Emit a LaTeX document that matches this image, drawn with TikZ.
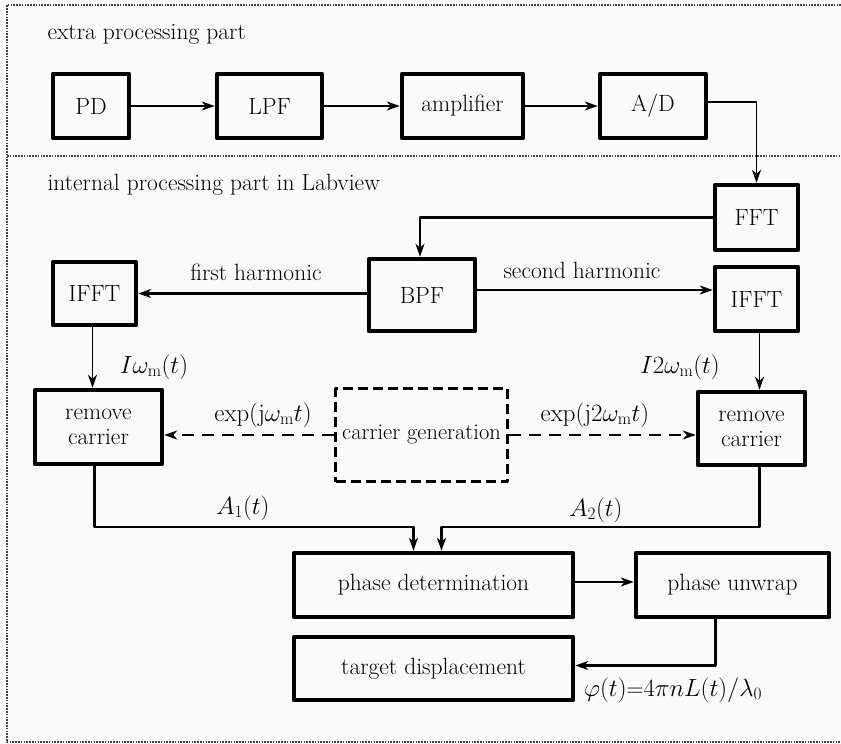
\documentclass[tikz,border=0pt]{standalone}
\usetikzlibrary{arrows.meta}
\begin{document}
\begin{tikzpicture}[x=1pt, y=-1pt, line join=round,
    >={Stealth[length=13pt, width=9pt, inset=4pt]},
    font=\fontsize{23.5}{25}\selectfont,
    block/.style={draw, line width=4.5pt, inner sep=2pt, align=center},
    gen/.style={draw, line width=3pt, dash pattern=on 10pt off 5pt, align=center},
    link/.style={->, line width=2.2pt},
    thin link/.style={->, line width=1.5pt},
    part/.style={line width=1.6pt, black!75, dash pattern=on 1.6pt off 1.2pt}]
	\def \xl{7};
	\def \xr{841};
	\useasboundingbox[fill=black!2] (0,0) rectangle (841,744);
	% frames of the two parts
	\draw[part] (\xr,5) -- (\xl,5) -- (\xl,742) -- (\xr,742);
	\draw[part] (\xl,156) -- (\xr,156);
	\node[anchor=west] (extra) at (44,34) {extra processing part};
	\node[anchor=west] (internal) at (44,185) {internal processing part in Labview};
	% blocks
	\node[block, minimum width=76pt, minimum height=64pt] (pd) at (91,106) {PD};
	\node[block, minimum width=105pt, minimum height=64pt] (lpf) at (269.5,106) {LPF};
	\node[block, minimum width=121pt, minimum height=64pt] (amp) at (462.5,106) {amplifier};
	\node[block, minimum width=106pt, minimum height=64pt] (ad) at (653,106) {A/D};
	\node[block, minimum width=83pt, minimum height=65pt] (fft) at (756.5,217.5) {FFT};
	\node[block, minimum width=106pt, minimum height=72pt] (bpf) at (422,295) {BPF};
	\node[block, minimum width=83pt, minimum height=63pt] (ifftl) at (94.5,293.5) {IFFT};
	\node[block, minimum width=83pt, minimum height=64pt] (ifftr) at (756.5,299) {IFFT};
	\node[block, minimum width=127pt, minimum height=74pt] (rcl) at (98.5,427) {remove\\carrier};
	\node[block, minimum width=107pt, minimum height=73pt] (rcr) at (751.5,428.5) {remove\\carrier};
	\node[gen, minimum width=172pt, minimum height=93pt, inner sep=1pt, font=\fontsize{22.5}{24}\selectfont] (cgen) at (421.5,435) {carrier generation};
	\node[block, minimum width=279pt, minimum height=64pt] (phdet) at (433.5,585) {phase determination};
	\node[block, minimum width=193pt, minimum height=64pt] (unwrap) at (732.5,585) {phase unwrap};
	\node[block, minimum width=279pt, minimum height=63pt] (target) at (433.5,668.5) {target displacement};
	% connections
	\draw[link] (pd) -- (lpf);
	\draw[link] (lpf) -- (amp);
	\draw[link] (amp) -- (ad);
	\draw[thin link] ([yshift=4pt]ad.east) -| (fft.north);
	\draw[link] (fft.west) -| ([xshift=-2pt]bpf.north);
	\draw[link] (bpf.west |- ifftl.east) -- (ifftl.east);
	\draw[link] ([yshift=5pt]bpf.east) -- ([yshift=5pt]bpf.east -| ifftr.west);
	\draw[thin link] ([xshift=-2pt]ifftl.south) -- ([xshift=-2pt]ifftl.south |- rcl.north);
	\draw[thin link] ([xshift=3pt]ifftr.south) -- ([xshift=3pt]ifftr.south |- rcr.north);
	\draw[link, dash pattern=on 12pt off 8pt] (cgen.west) -- (cgen.west -| rcl.east);
	\draw[link, dash pattern=on 12pt off 8pt] (cgen.east) -- (cgen.east -| rcr.west);
	\draw[link] ([xshift=-4pt]rcl.south) -- ([xshift=-4pt]rcl.south |- 0,527) -| ([xshift=-20pt]phdet.north);
	\draw[link] ([xshift=8pt]rcr.south) -- ([xshift=8pt]rcr.south |- 0,527) -| ([xshift=8pt]phdet.north);
	\draw[link] ([yshift=3pt]phdet.east) -- ([yshift=3pt]unwrap.west);
	\draw[link] ([xshift=-17pt]unwrap.south) |- ([yshift=3pt]target.east);
	% signal labels
	\node (iwl) at (154,367) {$I\omega_{\mathrm{m}}(t)$};
	\node (iwr) at (680,367) {$I2\omega_{\mathrm{m}}(t)$};
	\node (first) at (256,272) {first harmonic};
	\node (second) at (582,270) {second harmonic};
	\node (expl) at (263,415) {$\exp(\mathrm{j}\omega_{\mathrm{m}}t)$};
	\node (expr) at (595,415) {$\exp(\mathrm{j}2\omega_{\mathrm{m}}t)$};
	\node (aone) at (243,508) {$A_1(t)$};
	\node (atwo) at (596,510) {$A_2(t)$};
	\node[anchor=west, inner sep=0pt] (phi) at (584,690) {$\varphi(t)$=$4\pi nL(t)/\lambda_0$};
\end{tikzpicture}
\end{document}
